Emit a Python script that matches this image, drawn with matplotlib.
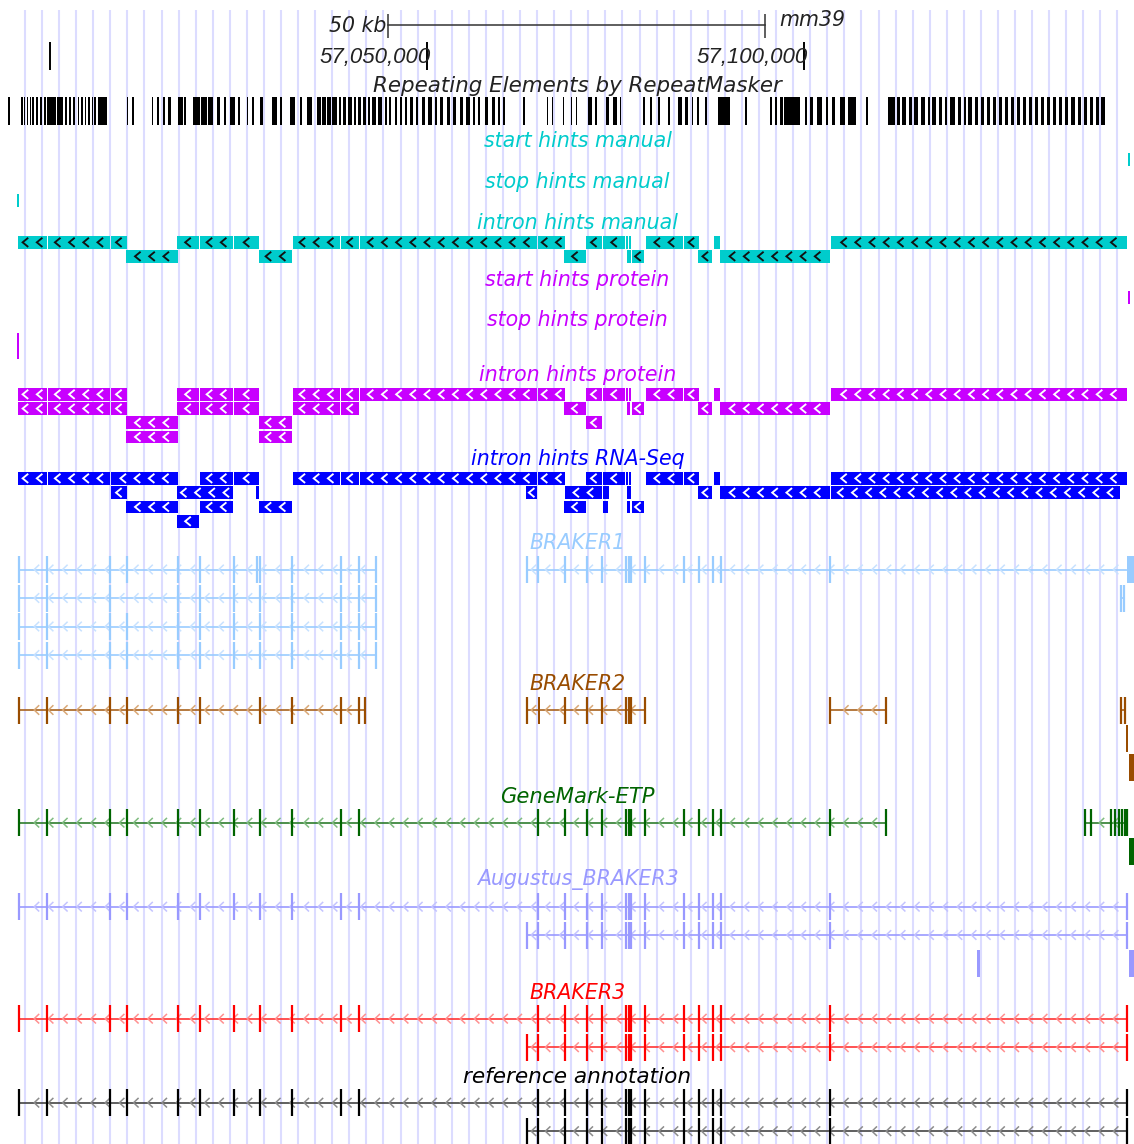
import matplotlib
matplotlib.use("Agg")
import matplotlib.pyplot as plt
from matplotlib.collections import LineCollection
from matplotlib.patches import Rectangle

# ------------------------------------------------------------------
# Region shown (mm39). All feature positions are kb from VIEW_START_BP.
# ------------------------------------------------------------------
ASSEMBLY = "mm39"
VIEW_START_BP = 56_993_320
VIEW_WIDTH_KB = 150.52
SCALE_BAR_KB = 50
SCALE_BAR_START_KB = 51.50
RULER_TICKS_BP = [57_000_000, 57_050_000, 57_100_000]
RULER_LABELLED_BP = [57_050_000, 57_100_000]

# RepeatMasker elements (start, end) in kb
repeat_blocks = [
    (1.10, 1.29), (2.75, 3.01), (3.19, 3.38), (3.58, 3.76), (3.92, 4.11), (4.25, 4.51),
    (4.78, 5.04), (5.31, 5.57), (5.84, 6.04), (6.24, 7.43), (7.57, 8.36), (8.63, 8.89),
    (9.16, 9.36), (9.69, 10.02), (10.35, 10.55), (10.75, 11.02), (11.28, 11.48),
    (11.68, 11.95), (12.21, 12.34), (12.54, 12.74), (12.97, 14.16), (16.82, 17.03),
    (17.52, 17.79), (20.14, 20.35), (20.88, 21.10), (21.60, 21.86), (22.34, 22.66),
    (23.67, 24.25), (24.42, 24.75), (25.62, 26.55), (26.68, 27.48), (27.61, 28.27),
    (28.76, 29.20), (29.73, 30.06), (30.53, 31.19), (31.59, 31.86), (32.74, 32.96),
    (33.45, 33.71), (34.51, 34.91), (36.06, 36.73), (37.16, 37.43), (38.49, 39.16),
    (39.82, 40.08), (40.75, 41.41), (42.04, 42.61), (42.74, 43.27), (43.40, 43.93),
    (44.07, 44.69), (45.00, 45.26), (45.53, 45.92), (46.19, 46.72), (46.99, 47.25),
    (47.52, 47.92), (48.18, 48.58), (48.84, 49.11), (49.38, 49.91), (50.17, 50.70),
    (51.10, 51.33), (51.63, 51.90), (52.43, 52.69), (53.09, 53.36), (53.76, 53.98),
    (54.42, 54.82), (55.22, 55.48), (56.01, 56.41), (56.81, 57.34), (57.74, 58.00),
    (58.40, 58.80), (59.33, 59.73), (60.13, 60.52), (61.06, 61.45), (61.85, 62.38),
    (62.78, 63.05), (63.45, 63.71), (64.37, 64.77), (65.30, 65.70), (66.10, 66.37),
    (66.76, 67.03), (69.46, 69.68), (72.56, 72.78), (73.23, 73.44), (74.69, 74.86),
    (75.79, 75.96), (76.45, 76.63), (78.05, 78.58), (78.97, 79.24), (80.43, 80.83),
    (81.36, 81.89), (82.29, 82.49), (85.35, 85.61), (86.27, 86.54), (87.34, 87.60),
    (88.66, 88.93), (89.99, 90.52), (90.92, 91.32), (91.85, 92.05), (92.51, 92.78),
    (93.57, 93.84), (95.30, 96.89), (98.88, 99.15), (102.20, 102.47), (102.87, 103.13),
    (103.53, 103.93), (104.06, 106.18), (106.85, 107.11), (107.51, 107.91),
    (108.44, 109.10), (109.63, 109.90), (110.43, 110.83), (111.49, 112.15),
    (112.56, 113.62), (114.94, 115.21), (117.86, 118.79), (119.06, 119.46),
    (119.72, 120.25), (120.65, 121.05), (121.32, 121.85), (122.24, 122.78),
    (123.17, 123.44), (123.70, 124.24), (124.63, 125.03), (125.43, 125.70),
    (126.09, 126.76), (127.16, 127.55), (127.95, 128.22), (128.48, 129.01),
    (129.41, 129.81), (130.21, 130.61), (131.00, 131.40), (131.80, 132.20),
    (132.60, 133.00), (133.39, 133.79), (134.19, 134.59), (134.99, 135.38),
    (135.78, 136.18), (136.58, 136.98), (137.38, 137.77), (138.17, 138.57),
    (138.97, 139.37), (139.77, 140.16), (140.56, 140.96), (141.36, 141.76),
    (142.15, 142.68), (143.08, 143.48), (143.88, 144.28), (144.68, 145.07),
    (145.47, 145.87), (146.14, 146.67),
]

# Start / stop hints (kb intervals)
start_hints_manual = [(149.68, 149.99)]
stop_hints_manual = [(2.26, 2.52)]
start_hints_protein = [(149.68, 149.99)]
stop_hints_protein = [[(2.26, 2.52)], [(2.26, 2.52)]]

# Intron hints, one list per packed row
intron_manual = [
    [(2.39, 6.24), (6.37, 14.60), (14.73, 16.82), (23.49, 26.41), (26.55, 30.93),
     (31.06, 34.38), (38.89, 45.13), (45.26, 47.65), (47.78, 71.32), (71.45, 74.99),
     (77.78, 79.86), (80.00, 83.00), (83.09, 83.31), (83.45, 83.71), (85.74, 90.61),
     (90.75, 92.78), (94.81, 95.57), (110.30, 149.55)],
    [(16.72, 23.63), (34.38, 38.76), (74.86, 77.74), (83.22, 83.71), (83.85, 85.48),
     (92.69, 94.54), (95.57, 110.17)],
]
intron_protein = [
    [(2.39, 6.24), (6.37, 14.60), (14.73, 16.82), (23.49, 26.41), (26.55, 30.93),
     (31.06, 34.38), (38.89, 45.13), (45.26, 47.65), (47.78, 71.32), (71.45, 74.99),
     (77.78, 79.86), (80.00, 83.00), (83.09, 83.31), (83.45, 83.71), (85.74, 90.61),
     (90.75, 92.78), (94.81, 95.57), (110.30, 149.55)],
    [(2.39, 6.24), (6.37, 14.60), (14.73, 16.82), (23.49, 26.41), (26.55, 30.93),
     (31.06, 34.38), (38.89, 45.13), (45.26, 47.65), (74.86, 77.74), (83.22, 83.62),
     (83.85, 85.48), (92.69, 94.54), (95.57, 110.17)],
    [(16.72, 23.63), (34.38, 38.76), (77.78, 79.86)],
    [(16.72, 23.63), (34.38, 38.76)],
]
intron_rnaseq = [
    [(2.39, 6.24), (6.37, 14.60), (14.73, 23.63), (26.55, 30.93), (31.06, 34.38),
     (38.89, 45.13), (45.26, 47.65), (47.78, 71.32), (71.45, 74.99), (77.78, 79.86),
     (80.00, 83.00), (83.09, 83.31), (83.45, 83.71), (85.74, 90.61), (90.75, 92.78),
     (94.81, 95.57), (110.30, 149.55)],
    [(14.73, 16.82), (23.49, 30.93), (33.98, 34.38), (69.82, 71.32), (74.99, 79.86),
     (80.00, 80.83), (83.22, 83.71), (92.69, 94.54), (95.57, 110.17), (110.30, 148.66)],
    [(16.72, 23.63), (26.55, 30.93), (34.38, 38.76), (74.86, 77.74), (80.00, 80.70),
     (83.22, 83.62), (83.85, 85.48)],
    [(23.49, 26.41)],
]

# Gene models: each row holds transcripts; a transcript = (exon positions, wide blocks)
exons_head = [2.50, 6.24, 14.60, 16.86, 23.63, 26.55, 31.06, 34.51, 38.76, 45.26, 47.65]
exons_tail = [71.41, 74.99, 77.95, 79.90, 83.06, 83.43, 83.81, 85.58, 90.84, 92.78,
              94.64, 95.67, 110.22]
alt_first_exon = [69.91]
last_exon = [149.56]

braker1 = [
    [([2.50, 6.24, 14.60, 16.86, 23.63, 26.55, 31.06, 34.11, 34.51, 38.76, 45.26, 47.65, 49.91], []),
     ([69.91, 71.41, 74.99, 77.95, 79.90, 83.06, 83.43, 83.81, 85.58, 90.84, 92.78, 94.64,
       95.67, 110.22], [(149.58, 150.52)])],
    [([2.50, 6.24, 14.60, 23.63, 26.55, 31.06, 34.51, 38.76, 45.26, 47.65, 49.91], []),
     ([148.79, 149.19], [])],
    [([2.50, 6.24, 14.60, 16.86, 23.63, 26.55, 31.06, 34.51, 38.76, 45.26, 47.65, 49.91], [])],
    [([2.50, 6.24, 14.60, 16.86, 23.63, 26.55, 31.06, 34.51, 38.76, 45.26, 47.65, 49.91], [])],
]
braker2 = [
    [([2.50, 6.24, 14.60, 16.86, 23.63, 26.55, 34.51, 38.76, 45.26, 47.65, 48.45], []),
     ([69.91, 74.99, 77.95, 79.90, 83.06, 83.43, 83.81, 85.58], [(71.36, 71.67)]),
     ([110.22, 117.63], []),
     ([148.75, 149.29], [])],
    [([], [(149.45, 149.66)])],
    [([], [(149.85, 150.52)])],
]
genemark = [
    [(exons_head + exons_tail + [117.63], []),
     ([144.01, 144.81, 147.46, 147.99, 148.52, 148.92, 149.32, 149.65], [])],
    [([], [(149.85, 150.52)])],
]
augustus = [
    [(exons_head + exons_tail + last_exon, [])],
    [(alt_first_exon + exons_tail + last_exon, [])],
    [([], [(129.68, 130.07)]), ([], [(149.85, 150.52)])],
]
braker3 = [
    [(exons_head + exons_tail + last_exon, [])],
    [(alt_first_exon + exons_tail + last_exon, [])],
]
reference = [
    [(exons_head + exons_tail + last_exon, [])],
    [(alt_first_exon + exons_tail + last_exon, [])],
]

# ------------------------------------------------------------------
W, H = 1134, 1144
fig = plt.figure(figsize=(W / 100, H / 100), dpi=100)
ax = fig.add_axes([0, 0, 1, 1])
ax.set_xlim(0, VIEW_WIDTH_KB)
ax.set_ylim(H, 0)
ax.axis("off")
PX = VIEW_WIDTH_KB / W          # kb per pixel column

CYAN, MAGENTA, BLUE = "#00CCCC", "#C800FF", "#0000FF"


def px_x(p):
    return p * PX


# light guide lines across the image
guide_x = []
p = 25.0
while p < W:
    guide_x.append(px_x(p))
    p += 17.07
ax.vlines(guide_x, 10, H, color="#DCDCFF", lw=1.5, zorder=0)


def label(text, y, color, x=None, ha="center", size=14.8, family="DejaVu Sans"):
    xx = px_x(577.5) if x is None else x
    ax.text(xx, y, text, color=color, ha=ha, va="center", zorder=5, fontsize=size,
            family=family, style="italic")


# ---- ruler ----
sb0 = SCALE_BAR_START_KB
sb1 = SCALE_BAR_START_KB + SCALE_BAR_KB
ax.plot([sb0, sb1], [25, 25], color="#333333", lw=1.1, zorder=3)
ax.vlines([sb0, sb1], 14, 38, color="#333333", lw=1.1, zorder=3)
label(f"{SCALE_BAR_KB} kb", 26, "#222222", x=sb0 - px_x(2), ha="right")
label(ASSEMBLY, 20, "#222222", x=sb1 + px_x(15), ha="left")
for t in RULER_TICKS_BP:
    xk = (t - VIEW_START_BP) / 1000
    ax.vlines(xk, 42, 70, color="black", lw=1.4, zorder=3)
    if t in RULER_LABELLED_BP:
        label(f"{t:,}", 57, "#222222", x=xk + px_x(4), ha="right", size=16,
              family="Liberation Sans")

# ---- RepeatMasker ----
label("Repeating Elements by RepeatMasker", 86, "#222222", size=15.4)
for s, e in repeat_blocks:
    ax.add_patch(Rectangle((s, 97), max(e - s, px_x(1.2)), 28, color="black", lw=0, zorder=2))


def chevrons(xs, y, color, half_h, width_px, lw):
    segs = [[(x + px_x(width_px), y - half_h), (x, y), (x + px_x(width_px), y + half_h)] for x in xs]
    ax.add_collection(LineCollection(segs, colors=color, linewidths=lw, zorder=4,
                                     joinstyle="miter", capstyle="butt"))


def hint_marks(blocks, y_top, color, h=12.7):
    for s, e in blocks:
        ax.add_patch(Rectangle((s, y_top), max(e - s, px_x(1.5)), h, color=color, lw=0, zorder=3))


def intron_rows(rows, y_top, step, color, chev_color):
    for i, row in enumerate(rows):
        yt = y_top + i * step
        hint_marks(row, yt, color)
        cx = []
        for s, e in row:
            wpx = (e - s) / PX
            n = int((wpx + 2) // 14.2)
            if n == 0 and wpx >= 11:
                n = 1
            mid = (s + e) / 2
            for k in range(n):
                cx.append(mid + (k - (n - 1) / 2) * px_x(14.2) - px_x(2.8))
        chevrons(cx, yt + 6.35, chev_color, 4.6, 5.6, 1.35)


# ---- hint tracks ----
label("start hints manual", 141, CYAN)
hint_marks(start_hints_manual, 153, CYAN)
label("stop hints manual", 182, CYAN)
hint_marks(stop_hints_manual, 194, CYAN)
label("intron hints manual", 223, CYAN)
intron_rows(intron_manual, 236, 14, CYAN, "#111111")

label("start hints protein", 280, MAGENTA)
hint_marks(start_hints_protein, 291, MAGENTA)
label("stop hints protein", 320, MAGENTA)
for i, row in enumerate(stop_hints_protein):
    hint_marks(row, 333 + i * 13, MAGENTA)
label("intron hints protein", 375, MAGENTA)
intron_rows(intron_protein, 388, 14.2, MAGENTA, "white")

label("intron hints RNA-Seq", 459, BLUE)
intron_rows(intron_rnaseq, 472, 14.3, BLUE, "white")


# ---- gene tracks ----
def gene_track(rows, y0, step, color, line_color, chev_color):
    for i, row in enumerate(rows):
        y = y0 + i * step
        for exons, blocks in row:
            pts = list(exons) + [b for blk in blocks for b in blk]
            if len(exons) + len(blocks) > 1:
                a, b = min(pts), max(pts)
                ax.plot([a, b], [y, y], color=line_color, lw=1.2, zorder=3, solid_capstyle="butt")
                cx = []
                p = 20.0
                while p * PX < b:
                    x = px_x(p)
                    if a + px_x(2) < x < b - px_x(5):
                        cx.append(x)
                    p += 14.2
                chevrons(cx, y, chev_color, 4.8, 5.0, 1.1)
            if exons:
                ax.vlines(exons, y - 13.5, y + 13.5, color=color, lw=1.6, zorder=4)
            for s, e in blocks:
                ax.add_patch(Rectangle((s, y - 13.5), e - s, 27, color=color, lw=0, zorder=4))


label("BRAKER1", 543, "#99CCFF")
gene_track(braker1, 569.5, 28.5, "#99CCFF", "#99CCFF", "#C8E2FF")
label("BRAKER2", 684, "#994C00")
gene_track(braker2, 710, 28.5, "#994C00", "#A8621E", "#D9A877")
label("GeneMark-ETP", 797, "#006400", size=15.2)
gene_track(genemark, 822.7, 28.5, "#006400", "#2E7D2E", "#80BC80")
label("Augustus_BRAKER3", 880, "#9999FF")
gene_track(augustus, 906.7, 28.3, "#9999FF", "#9999FF", "#C4C4FF")
label("BRAKER3", 993, "#FF0000")
gene_track(braker3, 1018.7, 28.5, "#FF0000", "#FF3333", "#FF9090")
label("reference annotation", 1077, "black", size=15.6)
gene_track(reference, 1102.7, 28.5, "black", "#444444", "#8C8C8C")

fig.savefig("out.png", dpi=100)
